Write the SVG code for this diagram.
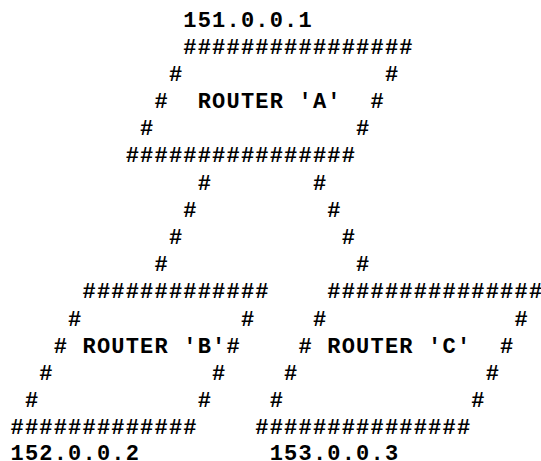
<svg xmlns="http://www.w3.org/2000/svg" width="541" height="461" viewBox="0 0 541 461">
<style>
text{font-family:"Liberation Mono","Courier New",monospace;font-weight:bold;font-size:22px;letter-spacing:1.2px;fill:#000;white-space:pre}
</style>
<rect width="541" height="461" fill="#fff"/>
<g id="router-a">
<text x="183.3" y="26.5">151.0.0.1</text>
<text x="183.3" y="53.69">################</text>
<text x="168.9" y="80.88">#</text><text x="384.9" y="80.88">#</text>
<text x="154.5" y="108.07">#</text><text x="197.7" y="108.07">ROUTER 'A'</text><text x="370.5" y="108.07">#</text>
<text x="140.1" y="135.26">#</text><text x="356.1" y="135.26">#</text>
<text x="125.7" y="162.45">################</text>
</g>
<g id="connectors">
<text x="197.7" y="189.64">#</text><text x="312.9" y="189.64">#</text>
<text x="183.3" y="216.83">#</text><text x="327.3" y="216.83">#</text>
<text x="168.9" y="244.02">#</text><text x="341.7" y="244.02">#</text>
<text x="154.5" y="271.21">#</text><text x="356.1" y="271.21">#</text>
</g>
<g id="router-b">
<text x="82.5" y="298.4">#############</text>
<text x="68.1" y="325.59">#</text><text x="240.9" y="325.59">#</text>
<text x="53.7" y="352.78">#</text><text x="82.5" y="352.78">ROUTER 'B'#</text>
<text x="39.3" y="379.97">#</text><text x="212.1" y="379.97">#</text>
<text x="24.9" y="407.16">#</text><text x="197.7" y="407.16">#</text>
<text x="10.5" y="434.35">#############</text>
<text x="10.5" y="460.2">152.0.0.2</text>
</g>
<g id="router-c">
<text x="327.3" y="298.4">###############</text>
<text x="312.9" y="325.59">#</text><text x="514.5" y="325.59">#</text>
<text x="298.5" y="352.78">#</text><text x="327.3" y="352.78">ROUTER 'C'</text><text x="500.1" y="352.78">#</text>
<text x="284.1" y="379.97">#</text><text x="485.7" y="379.97">#</text>
<text x="269.7" y="407.16">#</text><text x="471.3" y="407.16">#</text>
<text x="255.3" y="434.35">###############</text>
<text x="269.7" y="460.2">153.0.0.3</text>
</g>
</svg>
